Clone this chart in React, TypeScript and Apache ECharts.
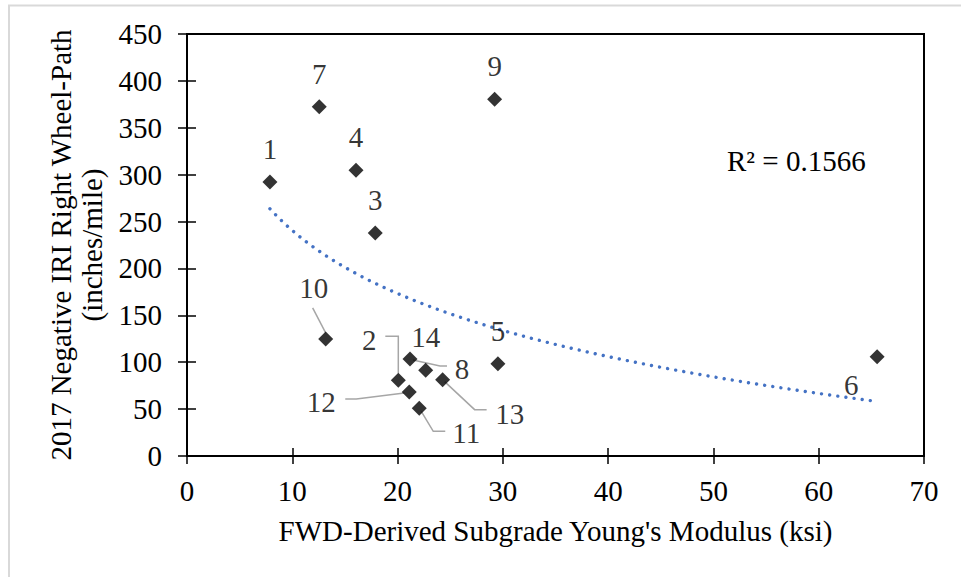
import React, { useEffect, useRef } from 'react';
import * as echarts from 'echarts';

// ---------- data ----------
const pointIds = ['1', '2', '3', '4', '5', '6', '7', '8', '9', '10', '11', '12', '13', '14'];
const modulusKsi = [7.88, 20.07, 17.88, 16.05, 29.53, 65.55, 12.56, 21.18, 29.22, 13.17, 22.06, 21.11, 24.28, 22.67];
const iriNegRight = [292.2, 80.7, 237.8, 304.6, 98.4, 105.9, 372.5, 103.4, 380.4, 124.8, 50.8, 68.2, 81.4, 91.4];

const xMin = 0;
const xMax = 70;
const xStep = 10;
const yMin = 0;
const yMax = 450;
const yStep = 50;

const rSquaredText = 'R² = 0.1566';
const xAxisTitle = "FWD-Derived Subgrade Young's Modulus (ksi)";
const yAxisTitleLines = ['2017 Negative IRI Right Wheel-Path', '(inches/mile)'];

// ---------- layout (pixel offsets relative to each point) ----------
const defaultLabelOffset: [number, number] = [0, -33];
const labelOffsets: Record<string, [number, number]> = {
  '2': [-29, -40],
  '6': [-26, 28],
  '8': [52, 10],
  '10': [-12, -51],
  '11': [47, 25],
  '12': [-88, 10],
  '13': [67, 34],
};
const leaderLines: Record<string, number[][]> = {
  '10': [[-13, -31], [0, -6]],
  '2': [[-13, -44], [0, -44], [0, -7]],
  '12': [[-64, 7], [-53, 7], [-5, 1]],
  '11': [[2, 3], [14, 23], [26, 23]],
  '13': [[2, 2], [32, 30], [44, 30]],
  '8': [[3, 1], [30, 7], [37, 7]],
};

const FONT = 'Liberation Serif, Times New Roman, serif';
const FS = 29;

// logarithmic least-squares fit (Excel "Logarithmic" trendline) from the data
function logFit(xs: number[], ys: number[]) {
  const n = xs.length;
  const lx = xs.map((v) => Math.log(v));
  const mx = lx.reduce((s, v) => s + v, 0) / n;
  const my = ys.reduce((s, v) => s + v, 0) / n;
  let sxy = 0;
  let sxx = 0;
  for (let i = 0; i < n; i++) {
    sxy += (lx[i] - mx) * (ys[i] - my);
    sxx += (lx[i] - mx) * (lx[i] - mx);
  }
  const a = sxy / sxx;
  const b = my - a * mx;
  return { a, b };
}

export default function App() {
  const ref = useRef<HTMLDivElement>(null);

  useEffect(() => {
    if (!ref.current) return;
    const chart = echarts.init(ref.current, null, { renderer: 'svg' });

    const { a, b } = logFit(modulusKsi, iriNegRight);
    const lo = Math.min(...modulusKsi);
    const hi = Math.max(...modulusKsi);
    const steps = 120;
    const trend: number[][] = [];
    for (let i = 0; i <= steps; i++) {
      const x = lo + ((hi - lo) * i) / steps;
      trend.push([x, a * Math.log(x) + b]);
    }

    const scatterData = pointIds.map((id, i) => ({
      value: [modulusKsi[i], iriNegRight[i]],
      label: { offset: labelOffsets[id] || defaultLabelOffset },
    }));

    const leaderData = Object.keys(leaderLines).map((id) => {
      const i = pointIds.indexOf(id);
      return [modulusKsi[i], iriNegRight[i], i];
    });

    const baseAxisText = { color: '#000', fontFamily: FONT, fontSize: FS };

    const option: any = {
      animation: false,
      backgroundColor: '#fff',
      grid: {
        left: 187,
        right: 37,
        top: 34,
        bottom: 121,
        show: true,
        borderColor: '#000',
        borderWidth: 2,
        backgroundColor: 'transparent',
      },
      graphic: [
        {
          type: 'rect',
          shape: { x: 9, y: 5.5, width: 1000, height: 1000 },
          style: { fill: 'none', stroke: '#d9d9d9', lineWidth: 2 },
          silent: true,
          z: -10,
        },
        {
          type: 'text',
          x: 727,
          y: 161,
          style: {
            text: rSquaredText,
            fill: '#000',
            fontFamily: FONT,
            fontSize: FS,
            textVerticalAlign: 'middle',
          },
          z: 10,
        },
      ],
      xAxis: [
        {
          type: 'value',
          position: 'bottom',
          min: xMin,
          max: xMax,
          interval: xStep,
          name: xAxisTitle,
          nameLocation: 'middle',
          nameGap: 60,
          nameTextStyle: { ...baseAxisText },
          axisLine: { show: true, lineStyle: { color: '#000', width: 2 } },
          axisTick: { show: true, inside: false, length: 8, lineStyle: { color: '#000', width: 1.5 } },
          axisLabel: { ...baseAxisText, margin: 20 },
          splitLine: { show: false },
        },
        {
          type: 'value',
          position: 'bottom',
          min: xMin,
          max: xMax,
          interval: xStep,
          axisLine: { show: false },
          axisTick: { show: true, inside: true, length: 8, lineStyle: { color: '#000', width: 1.5 } },
          axisLabel: { show: false },
          splitLine: { show: false },
        },
      ],
      yAxis: [
        {
          type: 'value',
          position: 'left',
          min: yMin,
          max: yMax,
          interval: yStep,
          name: yAxisTitleLines.join('\n'),
          nameLocation: 'middle',
          nameRotate: 90,
          nameGap: 69,
          nameTextStyle: { ...baseAxisText, lineHeight: 31 },
          axisLine: { show: true, lineStyle: { color: '#000', width: 2 } },
          axisTick: { show: true, inside: false, length: 9, lineStyle: { color: '#000', width: 1.5 } },
          axisLabel: { ...baseAxisText, margin: 25 },
          splitLine: { show: false },
        },
        {
          type: 'value',
          position: 'left',
          min: yMin,
          max: yMax,
          interval: yStep,
          axisLine: { show: false },
          axisTick: { show: true, inside: true, length: 9, lineStyle: { color: '#000', width: 1.5 } },
          axisLabel: { show: false },
          splitLine: { show: false },
        },
      ],
      series: [
        {
          type: 'line',
          name: 'Log trend',
          data: trend,
          showSymbol: false,
          symbol: 'none',
          silent: true,
          z: 1,
          lineStyle: { color: '#4472C4', width: 3.4, type: [0.01, 8.2], cap: 'round' },
        },
        {
          type: 'custom',
          name: 'leaders',
          coordinateSystem: 'cartesian2d',
          silent: true,
          z: 2,
          encode: { x: 0, y: 1 },
          data: leaderData,
          renderItem: (_params: any, api: any) => {
            const idx = api.value(2);
            const id = pointIds[idx];
            const base = api.coord([api.value(0), api.value(1)]);
            const pts = (leaderLines[id] || []).map(([dx, dy]) => [base[0] + dx, base[1] + dy]);
            return {
              type: 'polyline',
              shape: { points: pts },
              style: { stroke: '#a6a6a6', lineWidth: 1.5, fill: 'none' },
            };
          },
        },
        {
          type: 'scatter',
          name: 'Sections',
          z: 3,
          symbol: 'diamond',
          symbolSize: 15,
          itemStyle: { color: '#000' },
          data: scatterData,
          label: {
            show: true,
            position: 'inside',
            formatter: (p: any) => pointIds[p.dataIndex],
            color: '#000',
            fontFamily: FONT,
            fontSize: FS,
            textBorderWidth: 0,
            textBorderColor: 'transparent',
          },
        },
      ],
    };

    chart.setOption(option);
    return () => chart.dispose();
  }, []);

  return (
    <div
      ref={ref}
      style={{ position: 'absolute', left: 0, top: 0, width: 961, height: 577, background: '#fff' }}
    />
  );
}
